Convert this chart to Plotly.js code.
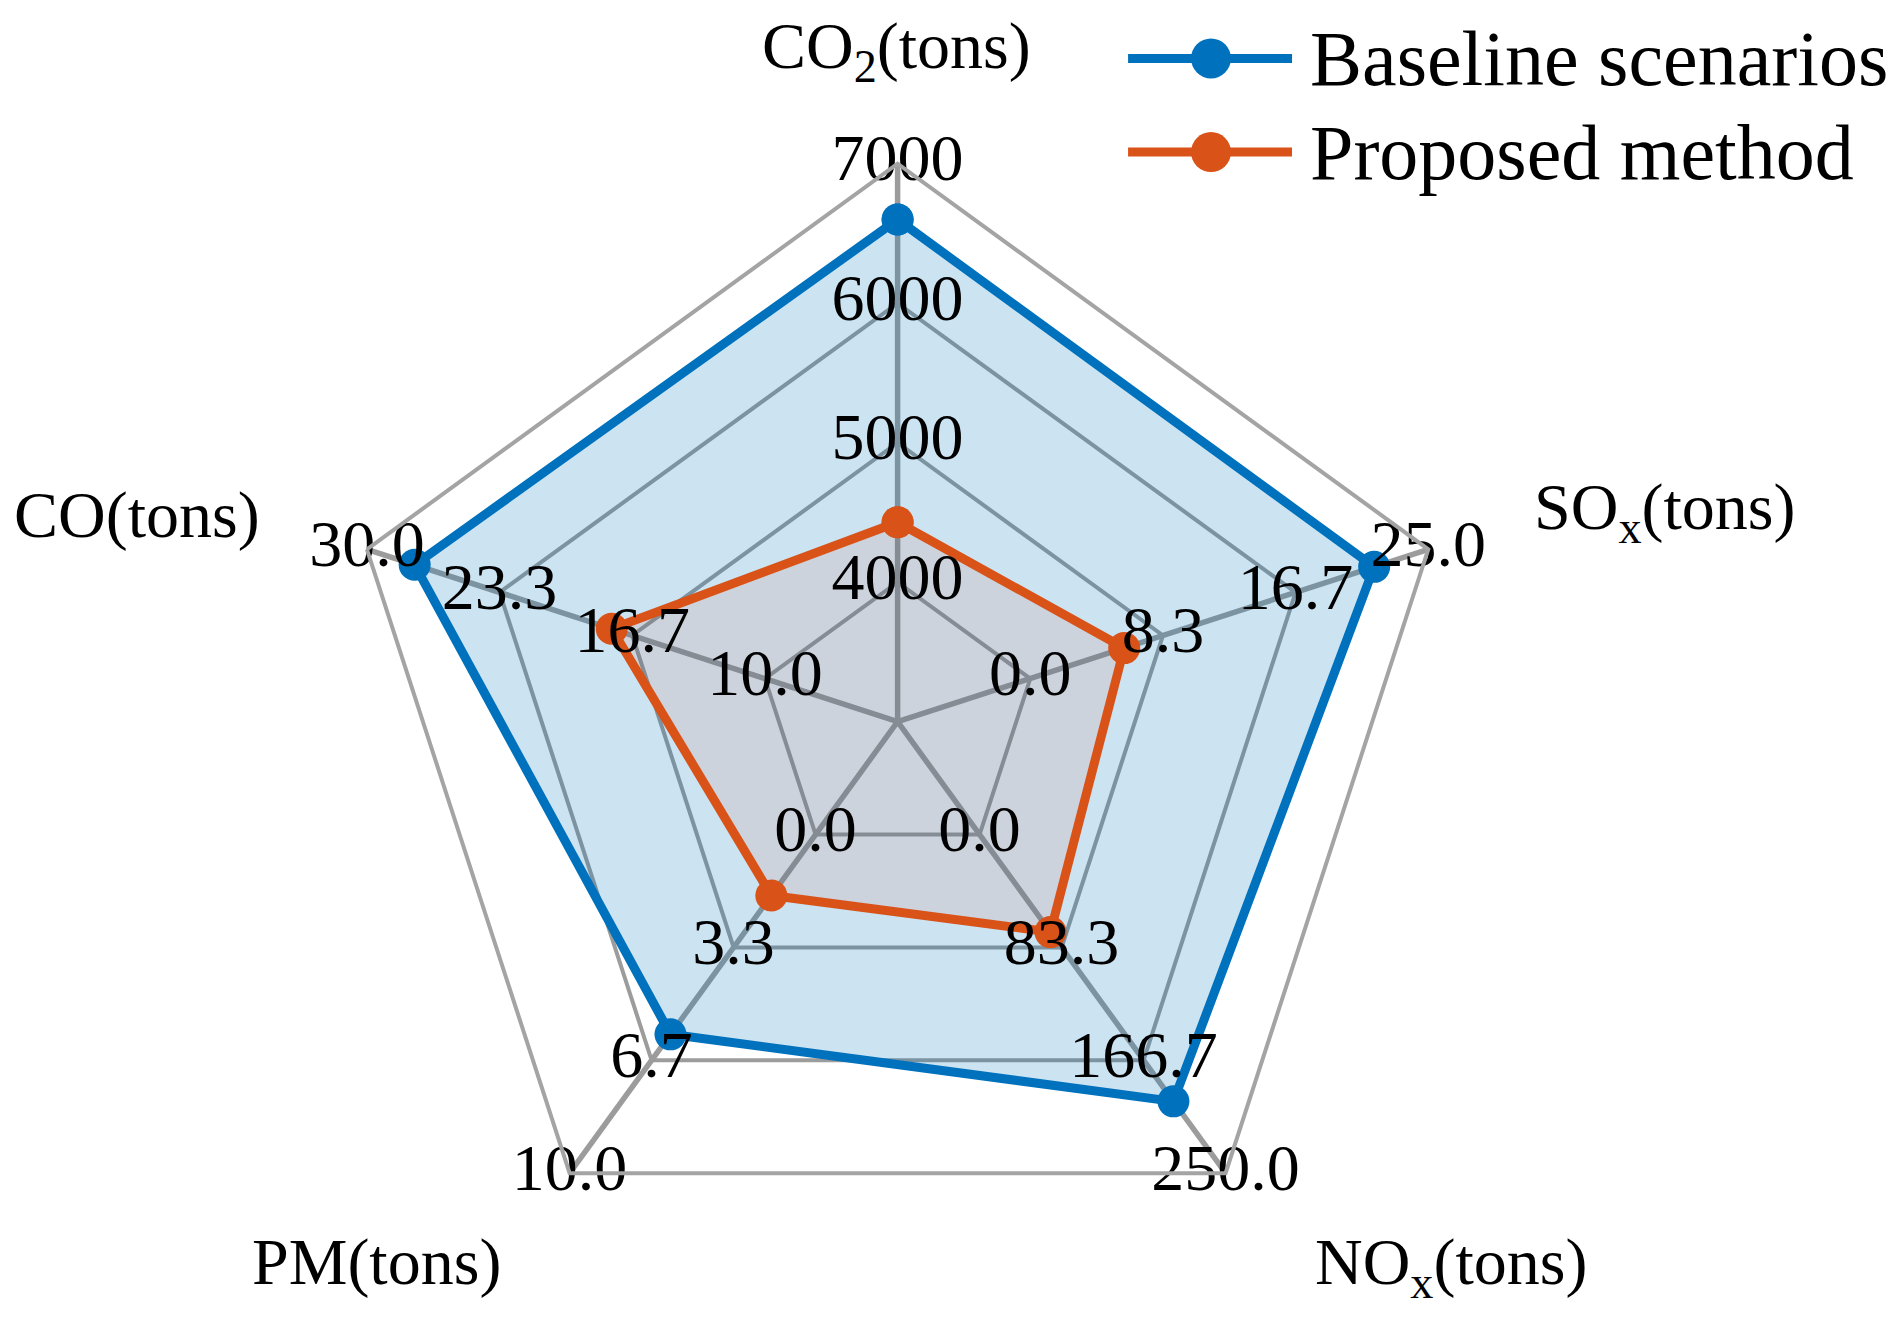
<!DOCTYPE html>
<html>
<head>
<meta charset="utf-8">
<script src="https://cdn.plot.ly/plotly-3.0.1.min.js"></script>
<style>html,body{margin:0;padding:0;background:#fff;}#chart{width:1902px;height:1328px;}</style>
</head>
<body>
<div id="chart"></div>
<script>
// ---- data ----
const categories = ['CO2', 'SOx', 'NOx', 'PM', 'CO'];
const categoryLabels = ['CO<sub>2</sub>(tons)', 'SO<sub>x</sub>(tons)', 'NO<sub>x</sub>(tons)', 'PM(tons)', 'CO(tons)'];
const axisMin = [4000, 0, 0, 0, 10];      // value on the innermost ring
const axisMax = [7000, 25, 250, 10, 30];  // value on the outer ring
const tickLabelsCO2 = ['4000', '5000', '6000', '7000'];
const tickLabelsSOx = ['0.0', '8.3', '16.7', '25.0'];
const tickLabelsNOx = ['0.0', '83.3', '166.7', '250.0'];
const tickLabelsPM  = ['0.0', '3.3', '6.7', '10.0'];
const tickLabelsCO  = ['10.0', '16.7', '23.3', '30.0'];
const seriesNames = ['Baseline scenarios', 'Proposed method'];
const baseline = [6600, 21.6, 197, 5.9, 27.6];
const proposed = [4430, 5.9, 72, 1.8, 17.7];

const tickLabels = [tickLabelsCO2, tickLabelsSOx, tickLabelsNOx, tickLabelsPM, tickLabelsCO];
const RINGS = 4;
function toR(v, i) { return 1 + (RINGS - 1) * (v - axisMin[i]) / (axisMax[i] - axisMin[i]); }

const blue = '#0072BD', orange = '#D95319';
const FONT = "'Liberation Serif', 'Times New Roman', serif";

function seriesTrace(vals, name, color, fill) {
  const r = vals.map(toR); r.push(r[0]);
  const th = categories.slice(); th.push(categories[0]);
  return {
    type: 'scatterpolar', r: r, theta: th, name: name, mode: 'lines+markers',
    line: {color: color, width: 9}, marker: {color: color, size: 32},
    fill: 'toself', fillcolor: fill, hoverinfo: 'skip', cliponaxis: false
  };
}

const tr = [], tth = [], ttx = [];
categories.forEach((c, i) => {
  tickLabels[i].forEach((t, k) => { tr.push(k + 1); tth.push(c); ttx.push(t); });
});

const data = [
  seriesTrace(baseline, seriesNames[0], blue, 'rgba(0,114,189,0.2)'),
  seriesTrace(proposed, seriesNames[1], orange, 'rgba(217,83,25,0.1)'),
  {type: 'scatterpolar', r: tr, theta: tth, text: ttx, mode: 'text', textposition: 'middle center',
   textfont: {family: FONT, size: 66, color: '#000'}, hoverinfo: 'skip', cliponaxis: false, showlegend: false}
];

// category title positions (paper coords)
const labelPos = [[0.4716, 0.962], [0.8749, 0.615], [0.7629, 0.046], [0.1982, 0.0497], [0.0720, 0.6122]];
const annotations = categoryLabels.map((t, i) => ({
  text: t, xref: 'paper', yref: 'paper', x: labelPos[i][0], y: labelPos[i][1],
  xanchor: 'center', yanchor: 'middle', showarrow: false, font: {family: FONT, size: 66, color: '#000'}
}));

// custom legend
const legY = [0.956, 0.8855];
const legColors = [blue, orange];
const shapes = [];
seriesNames.forEach((n, i) => {
  shapes.push({type: 'line', xref: 'paper', yref: 'paper', x0: 0.5931, x1: 0.6793, y0: legY[i], y1: legY[i],
    line: {color: legColors[i], width: 9}});
  shapes.push({type: 'circle', xref: 'paper', yref: 'paper', xsizemode: 'pixel', ysizemode: 'pixel',
    xanchor: 0.6367, yanchor: legY[i], x0: -20, x1: 20, y0: -20, y1: 20,
    fillcolor: legColors[i], line: {color: legColors[i], width: 0}});
  annotations.push({text: n, xref: 'paper', yref: 'paper', x: 0.6875, y: legY[i], xanchor: 'left', yanchor: 'middle',
    showarrow: false, font: {family: FONT, size: 78, color: '#000'}});
});

const layout = {
  width: 1902, height: 1328, margin: {l: 0, r: 0, t: 0, b: 0},
  paper_bgcolor: '#fff', showlegend: false,
  font: {family: FONT, size: 66, color: '#000'},
  polar: {
    domain: {x: [0.17855, 0.76530], y: [0.03637, 0.87673]},
    bgcolor: 'rgba(0,0,0,0)', gridshape: 'linear',
    radialaxis: {range: [0, RINGS], tickvals: [1, 2, 3], showticklabels: false, ticks: '',
      showline: false, gridcolor: '#9c9c9c', gridwidth: 4},
    angularaxis: {type: 'category', categoryarray: categories, direction: 'clockwise', rotation: 90,
      showticklabels: false, ticks: '', showline: true, linecolor: '#a4a4a4', linewidth: 4,
      gridcolor: '#9c9c9c', gridwidth: 5.5}
  },
  annotations: annotations, shapes: shapes
};

Plotly.newPlot('chart', data, layout, {staticPlot: true});
</script>
</body>
</html>
